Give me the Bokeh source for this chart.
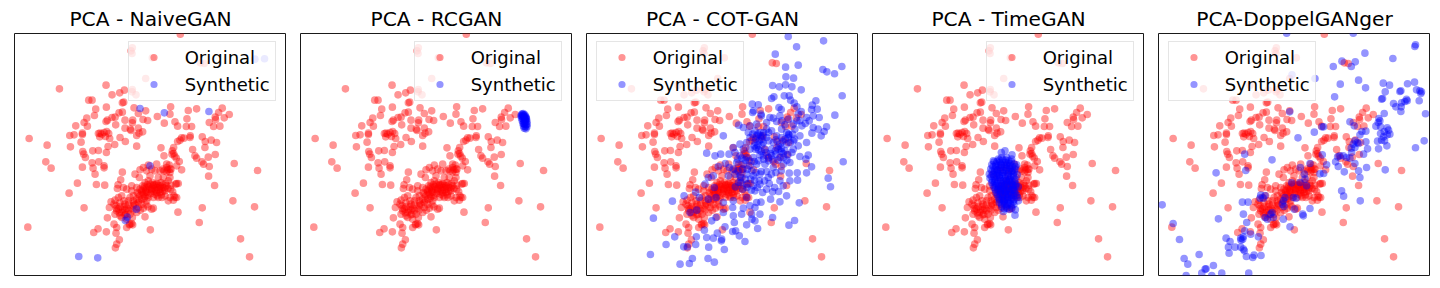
from bokeh.plotting import figure
from bokeh.models import Range1d, Legend, LegendItem
from bokeh.layouts import row
from bokeh.embed import file_html
from bokeh.resources import INLINE

titles = ["PCA - NaiveGAN", "PCA - RCGAN", "PCA - COT-GAN", "PCA - TimeGAN", "PCA-DoppelGANger"]

original = [
(541,100),(397,141),(393,150),(396,158),(457,171),(601,186),(613,188),(437,233),(318,253),(178,264),(397,266),(396,273),(408,282),(373,268),(359,276),(336,282),
(266,298),(276,298),(367,306),(371,304),(319,319),(287,325),(283,344),(260,352),(252,365),(227,375),(262,376),(247,397),(247,401),(222,402),(209,404),(87,413),
(141,433),(211,438),(243,424),(248,452),(251,460),(256,470),(278,450),(295,449),(319,455),(324,437),(344,431),(137,483),(153,502),(247,499),(276,486),(296,483),
(312,495),(312,501),(279,502),(285,520),(232,547),(289,551),(314,553),(207,577),(252,621),(83,679),(281,695),(294,684),(319,693),(322,651),
(295,398),(300,397),(305,400),(312,395),(320,392),(326,398),(299,408),(316,407),(329,413),(360,410),(376,422),(410,436),(347,372),(375,382),(391,385),(393,389),
(415,382),(428,393),(417,397),(410,404),(398,358),(397,366),(429,356),(443,359),(472,347),(512,318),(510,340),(493,367),(525,363),(561,354),(533,376),(565,329),
(590,324),(559,377),(575,377),(628,365),(646,349),(647,356),(656,335),(667,322),(688,341),(673,351),(641,377),(660,376),(402,321),(415,338),(437,330),(375,358),
(357,336),(336,350),(345,349),(322,358),(318,362),(367,334),
(571,405),(570,410),(552,412),(545,411),(540,418),(533,422),(607,408),(616,422),(634,418),(650,425),(615,440),(578,446),(585,465),(590,472),(625,469),(646,461),
(606,483),(611,490),(628,497),(626,526),(644,554),(703,488),(773,509),(699,600),(764,618),(607,621),(598,665),(722,714),(749,768),(534,634),(451,687),
(521,440),(517,450),(516,460),(521,458),(524,466),(529,472),(492,465),(483,441),(538,482),(530,495),(545,507),(500,490),(508,493),(513,505),(492,510),(500,513),
(470,490),(445,493),(420,507),(430,500),(367,514),(418,530),(450,525),(465,510),(475,530),(490,530),(510,530),(530,548),(535,548),(505,540),(354,552),(362,537),
(352,563),(370,560),(380,565),(395,570),(425,570),(430,565),(440,560),(450,550),(460,555),(470,560),(480,555),(490,560),(500,555),(440,575),(455,570),(465,580),
(480,575),(495,570),(430,580),(445,590),(425,595),(440,600),(460,590),(475,590),(495,585),(510,590),(530,590),(505,600),(520,598),(415,605),(400,600),(390,590),
(355,590),(333,603),(328,620),(348,615),(360,618),(372,618),(385,612),(400,615),(415,620),(430,622),(455,625),(460,622),(350,630),(365,635),(375,642),(390,640),
(410,635),(435,648),(398,672),(380,680),(390,670),(342,670),(350,680),(348,697),(358,717),(350,730),(346,741),(415,580),
(435,545),(445,540),(458,545),(470,548),(483,545),(497,548),(428,555),(442,552),(455,562),(468,568),(482,565),(495,562),(512,565),(522,585),(437,568),(448,565),
(462,572),(476,568),(488,572),(435,588),(420,585),(410,595),(402,607),(425,610),(438,612),(375,628),(355,625),(345,640),(360,645),(380,655),(397,650),(372,600),
(385,600),(365,585),(342,610),(410,560),(395,555),(405,520),(440,510),(455,505),(480,510),(500,500),(510,515),
(433,558),(447,557),(462,551),(475,553),(488,551),(452,578),(437,573),(470,575),(484,582),(426,575),(456,566),(443,583),(432,592),(418,598),(405,612),(393,622),
(380,622),(368,627),(358,636),(349,623),(386,630),(399,628),(421,628),(444,618),(375,610),(360,606),(345,598),(466,552),(478,560),(504,563),(518,572),(527,550),
(513,553),(525,590),(472,585),(486,590),(400,585),(412,575),(420,565),(378,640),(365,650),(388,672),(395,668),(510,505),(503,507),(488,505),
]

naive_syn = [(420,323),(493,336),(627,332),(450,495),(409,625),(382,649),(376,659),(236,767),(293,771),(765,175),(794,174)]

rcgan_syn = [
(708,340),(712,338),(717,342),(705,345),(710,347),(715,350),(720,348),(707,352),(712,355),(717,357),(722,355),(709,360),(714,362),(719,364),(723,362),(711,368),
(716,370),(721,372),(724,370),(713,376),(718,378),(723,378),(715,382),(720,384),(710,341),(716,346),(721,352),(714,368),(719,358),(708,346),(713,343),(718,352),
]

cot_syn = [
(649,107),(755,120),(674,138),(610,160),(641,199),(679,193),(753,206),(765,213),(788,219),(810,197),(642,228),(665,232),(602,254),(622,258),(641,252),(660,258),
(688,267),(811,285),(637,285),(652,285),(599,293),(606,288),(656,298),(732,300),(721,313),(667,307),(541,310),(559,312),(621,320),(628,326),(675,318),(719,326),
(736,325),(542,335),(567,340),(545,330),(568,345),(594,350),(604,352),(624,345),(679,340),(688,332),(704,350),(724,345),(742,350),(789,343),(500,373),(514,380),
(534,375),(554,370),(584,365),(614,362),(639,372),(664,370),(684,360),(724,380),(739,385),(764,378),(757,392),(748,405),(720,397),(454,405),(529,395),(549,390),
(564,395),(584,385),(599,390),(629,385),(644,395),(669,385),(684,405),(704,425),(534,410),(554,405),(569,415),(584,410),(614,405),(629,410),(649,410),(664,420),
(524,425),(549,425),(574,425),(604,425),(624,430),(644,430),(679,435),(504,430),(484,440),(404,457),(429,465),(446,460),(471,460),(489,455),(514,445),(534,445),
(554,440),(579,445),(599,445),(619,445),(639,450),(664,445),(709,463),(684,467),(702,475),(504,465),(524,470),(544,470),(574,465),(599,465),(624,470),(654,485),
(634,490),(814,483),(719,498),(704,516),(494,485),(514,490),(534,495),(554,490),(579,490),(604,500),(652,517),(676,516),(628,510),(439,497),(424,525),(409,530),
(399,550),(427,560),(469,525),(489,520),(504,525),(524,520),(544,525),(564,520),(589,530),(624,540),(654,540),(677,538),(769,532),(776,558),(507,545),(524,550),
(544,555),(564,550),(584,565),(634,555),(602,573),(644,585),(572,575),(549,570),(371,574),(336,585),(301,601),(382,590),(409,595),(432,590),(524,590),(454,605),
(484,600),(554,605),(567,604),(596,595),(624,603),(682,606),(374,628),(354,635),(244,652),(482,620),(514,622),(534,615),(549,620),(454,635),(432,650),(419,660),
(484,645),(509,640),(539,640),(564,640),(549,660),(540,655),(602,650),(651,673),(668,659),(487,665),(524,672),(557,683),(459,678),(397,688),(482,692),(491,690),
(436,697),(308,708),(373,708),(404,710),(424,712),(449,715),(502,705),(519,722),(448,720),(282,731),(335,738),(371,731),(410,739),(457,746),(346,738),(235,761),
(361,773),(408,773),(427,784),(324,790),(352,788),
(558,400),(566,405),(575,395),(552,415),(562,420),(570,432),(558,433),(547,435),(590,420),(612,417),(620,437),(632,422),(640,415),(651,403),(628,443),(610,450),
(560,447),(568,452),(582,455),(596,458),(612,460),(634,458),(648,462),(660,455),(628,452),(618,478),(603,478),(590,480),(575,475),(560,480),(547,482),(532,480),
(520,478),(510,472),(497,475),(512,505),(526,505),(540,510),(552,515),(568,512),(584,512),(598,520),(612,515),(536,535),(520,535),(506,530),(548,538),(562,540),
(578,540),(592,548),(608,560),(620,572),(556,560),(538,568),(525,560),(512,565),(500,545),(490,558),(498,510),(484,505),(472,500),(460,488),(650,400),(662,400),
(668,415),(655,425),(590,395),(574,405),(542,400),(550,445),(564,462),(635,470),(645,478),(590,470),(675,360),(650,355),(630,360),(712,360),(700,368),(690,375),
]

timegan_syn = [
(441,450),(430,455),(462,462),(421,475),(406,480),(431,470),(446,470),(461,475),(476,492),(414,490),(401,492),(426,485),(441,485),(456,488),(468,490),
(398,505),(411,505),(426,500),(441,500),(456,503),(471,505),(394,520),(406,520),(421,518),(436,516),(451,518),(466,520),(478,522),(396,532),(411,535),(426,532),
(441,532),(456,533),(471,535),(401,545),(416,548),(431,548),(446,546),(461,548),(474,550),(408,560),(421,562),(436,560),(451,562),(466,560),(481,558),
(414,575),(428,575),(441,575),(456,575),(471,578),(421,590),(434,588),(448,590),(461,592),(479,590),(424,605),(438,603),(451,605),(466,603),(481,600),
(431,618),(446,615),(461,615),(436,632),(454,626),(472,627),(471,643),
(408,484),(417,482),(425,478),(434,477),(443,478),(452,480),(460,482),(405,497),(413,496),(421,494),(430,493),(438,492),(447,493),(455,495),(463,497),(472,498),
(402,511),(410,512),(418,510),(427,509),(435,508),(444,509),(452,511),(460,512),(469,513),(400,526),(408,527),(416,525),(424,525),(433,524),(442,524),(450,526),
(458,527),(467,527),(403,539),(411,541),(419,540),(428,539),(436,539),(445,540),(453,541),(462,541),(470,542),(405,553),(413,554),(422,555),(430,554),(439,553),
(448,554),(456,555),(465,554),(473,556),(412,567),(420,568),(428,568),(436,567),(445,568),(453,568),(462,568),(470,570),(418,582),(426,582),(434,581),(442,582),
(451,582),(459,583),(467,584),(476,583),(424,597),(432,596),(440,596),(449,597),(458,598),(468,596),(431,610),(440,610),(448,611),(457,609),(468,610),(439,624),
(447,622),(462,622),
(417,507),(432,514),(447,503),(424,530),(439,545),(454,537),(428,560),(443,572),(437,600),(452,590),(429,491),(447,487),(415,518),(462,510),(410,546),(466,566),
]

doppel_syn = [
(428,97),(628,97),(815,132),(813,137),(663,157),(747,173),(594,181),(634,183),(568,197),(622,197),(444,222),(513,233),(644,238),(589,250),(718,247),(665,261),
(737,253),(768,272),(771,270),(791,249),(812,244),(818,267),(828,270),(833,273),(831,278),(724,273),(716,293),(713,295),(572,288),(788,295),(790,300),(783,302),
(773,306),(826,300),(749,308),(756,318),(772,318),(771,332),(845,339),(721,338),(437,333),(705,353),(708,360),(703,365),(696,376),(710,378),(730,381),(734,388),
(721,392),(710,398),(730,402),(738,400),(719,408),(713,418),(722,420),(701,421),(729,435),(704,444),(815,441),(841,420),(539,378),(534,378),(618,363),(631,375),
(654,392),(666,391),(648,402),(511,394),(462,411),(633,420),(640,425),(644,428),(628,430),(666,423),(622,442),(671,444),(633,440),(623,455),(588,465),(598,465),
(608,470),(618,472),(581,468),(535,462),(302,460),(384,477),(659,460),(575,483),(548,492),(583,497),(633,488),(668,500),(724,507),(601,513),(644,510),(648,530),
(216,516),(305,509),(528,519),(539,518),(469,500),(498,488),(481,520),(483,535),(468,545),(443,546),(488,555),(448,590),(456,592),(423,590),(593,570),(599,586),
(649,600),(350,583),(363,584),(358,592),(348,592),(418,600),(415,610),(420,617),(451,625),(498,623),(295,604),(312,604),(384,635),(380,640),(363,650),(370,655),
(388,650),(476,640),(478,645),(418,655),(438,678),(298,640),(308,665),(54,612),(87,668),(223,654),(302,690),(320,700),(298,708),(296,715),(290,712),(291,718),
(343,708),(246,712),(258,722),(106,716),(253,739),(273,739),(290,739),(298,745),(301,750),(255,757),(165,761),(120,773),(131,790),(307,767),(330,763),(351,764),
(326,770),(183,805),(186,804),(208,794),(173,817),(233,817),(314,817),(126,824),(203,824),
]

synthetic = [naive_syn, rcgan_syn, cot_syn, timegan_syn, doppel_syn]
legend_left = [113.7, 113.7, 9.7, 113.7, 9.7]

figs = []
for i, (name, syn) in enumerate(zip(titles, synthetic)):
    p = figure(width=286, height=280, output_backend="svg", toolbar_location=None,
               x_range=Range1d(43, 860), y_range=Range1d(824, 98),
               min_border_left=14, min_border_right=0, min_border_top=33, min_border_bottom=5,
               title=name)
    p.axis.visible = False
    p.grid.visible = False
    p.outline_line_color = "#1a1a1a"
    p.outline_line_width = 1
    p.title.align = "center"
    p.title.text_font = "DejaVu Sans"
    p.title.text_font_size = "20.2px"
    p.title.text_font_style = "normal"
    p.title.text_color = "#000000"
    p.title.standoff = 6
    r1 = p.scatter([a for a, b in original], [b for a, b in original], size=7.6, line_width=0,
                   fill_color="red", line_color=None, fill_alpha=0.42)
    r2 = p.scatter([a for a, b in syn], [b for a, b in syn], size=7.6, line_width=0,
                   fill_color="blue", line_color=None, fill_alpha=0.42)
    leg = Legend(items=[LegendItem(label="Original", renderers=[r1]),
                        LegendItem(label="Synthetic", renderers=[r2])],
                 location=(legend_left[i], 174.5), padding=5, spacing=6,
                 glyph_width=39, glyph_height=18, label_height=18, label_standoff=12,
                 label_text_font="DejaVu Sans", label_text_font_size="18px",
                 label_text_color="#000000", border_line_color="#cccccc", border_line_width=1,
                 background_fill_color="white", background_fill_alpha=0.8, margin=0)
    p.add_layout(leg, "center")
    figs.append(p)

page = row(*figs)
open("out.html", "w").write(file_html(page, INLINE))
